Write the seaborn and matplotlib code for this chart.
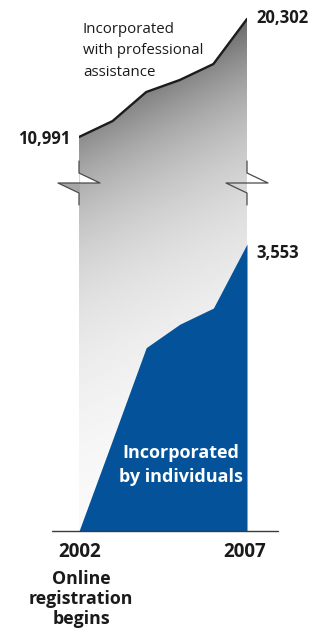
import numpy as np
import matplotlib
matplotlib.use("Agg")
import matplotlib.pyplot as plt
from matplotlib.lines import Line2D
from matplotlib.patches import Polygon
import seaborn as sns

# ---- data ----
years = [2002, 2003, 2004, 2005, 2006, 2007]
professional = [10991, 12250, 14540, 15490, 16750, 20302]
individuals = [0, 1130, 2270, 2560, 2760, 3553]
first_label, last_label = "2002", "2007"
prof_label = "Incorporated\nwith professional\nassistance"
indiv_label = "Incorporated\nby individuals"
note_label = "Online\nregistration\nbegins"

sns.set_style("white")
plt.rcParams["font.family"] = ["Open Sans", "DejaVu Sans"]

W, H = 312, 631
fig = plt.figure(figsize=(W / 100, H / 100), dpi=100)
fig.patch.set_facecolor("white")

def fx(x):
    return x / W

def fy(y):
    return 1 - y / H

X0, X1 = 79, 247
Y_BASE, Y_BREAK, Y_TOP = 531, 183, 5
# bottom axes (individuals scale)
ax_b = fig.add_axes([fx(X0), fy(Y_BASE), (X1 - X0) / W, (Y_BASE - Y_BREAK) / H])
ax_t = fig.add_axes([fx(X0), fy(Y_BREAK), (X1 - X0) / W, (Y_BREAK - Y_TOP) / H])

pb = 287 / 3553.0  # px per unit bottom
b_top = (Y_BASE - Y_BREAK) / pb
pt = 118 / (20302 - 10991)  # px per unit top
t_lo = 10991 - (Y_BREAK - 137) / pt
t_hi = 20302 + (19 - Y_TOP) / pt

for ax in (ax_b, ax_t):
    ax.set_xlim(2002, 2007)
    ax.axis("off")
ax_b.set_ylim(0, b_top)
ax_t.set_ylim(t_lo, t_hi)

def gradient(ax, ytop_px, ybot_px, clip):
    nx, ny = 200, 400
    xs = np.linspace(X0, X1, nx)
    ys = np.linspace(ytop_px, ybot_px, ny)
    XX, YY = np.meshgrid(xs, ys)
    u = (YY - 19) + 0.5 * (XX - 79)
    v = 255 - 143 * np.exp(-(u - 91) / 126)
    v = np.clip(v, 100, 251) / 255.0
    y0, y1 = ax.get_ylim()
    im = ax.imshow(v, cmap="gray", vmin=0, vmax=1, extent=(2002, 2007, y0, y1),
                   aspect="auto", origin="upper", interpolation="bilinear", zorder=1)
    path = clip.get_paths()[0]
    im.set_clip_path(path, transform=ax.transData)

# top part: professional
poly_t = ax_t.fill_between(years, t_lo, professional, color="none", lw=0)
gradient(ax_t, Y_TOP, Y_BREAK, poly_t)
sns.lineplot(x=years, y=professional, ax=ax_t, color="#1c1c1c", lw=1.7, zorder=3)
ax_t.set_xlim(2002, 2007)

# bottom part: full column gray + individuals
poly_b = ax_b.fill_between([2002, 2007], 0, b_top, color="none", lw=0)
gradient(ax_b, Y_BREAK, Y_BASE, poly_b)
ax_b.fill_between(years, 0, individuals, color="#03529a", lw=0, zorder=2)
ax_b.axhline(0, xmin=(52 - X0) / (X1 - X0), xmax=(278 - X0) / (X1 - X0),
             color="#3a3a3a", lw=1.0, clip_on=False, zorder=3)
ax_b.set_xlim(2002, 2007)

# break marks
def px(pts):
    return [(fx(a), fy(b)) for a, b in pts]

fig.add_artist(Polygon(px([(79.5, 173), (99, 183), (79.5, 183)]), closed=True,
                       fc="white", ec="none", zorder=5))
fig.add_artist(Polygon(px([(58, 183), (79.5, 183), (79.5, 193)]), closed=True,
                       fc="#a6a6a6", ec="none", zorder=5))
fig.add_artist(Polygon(px([(247, 173), (268, 183), (247, 183)]), closed=True,
                       fc="white", ec="none", zorder=5))
for xe in (79, 247):
    pts = [(xe, 161), (xe, 173), (xe + 21, 183), (xe - 21, 183), (xe, 193), (xe, 205)]
    xs, ys = zip(*px(pts))
    fig.add_artist(Line2D(xs, ys, color="#4a4a4a", lw=0.9, zorder=6))

# texts
def T(x, y, s, **kw):
    fig.text(fx(x), fy(y), s, **kw)

T(70, 139, f"{professional[0]:,}", ha="right", va="center", fontsize=12,
  fontweight="bold", color="#1a1a1a")
T(256, 18, f"{professional[-1]:,}", ha="left", va="center", fontsize=12,
  fontweight="bold", color="#1a1a1a")
T(256, 253, f"{individuals[-1]:,}", ha="left", va="center", fontsize=12,
  fontweight="bold", color="#1a1a1a")
T(83, 51, prof_label, ha="left", va="center", fontsize=10.8, color="#1a1a1a",
  linespacing=1.62)
T(181, 465, indiv_label, ha="center", va="center", fontsize=13,
  fontweight="bold", color="white", linespacing=1.5)
T(80, 552, first_label, ha="center", va="center", fontsize=13.5,
  fontweight="bold", color="#1a1a1a")
T(245, 552, last_label, ha="center", va="center", fontsize=13.5,
  fontweight="bold", color="#1a1a1a")
T(81, 599, note_label, ha="center", va="center", fontsize=12.8,
  fontweight="bold", color="#1a1a1a", linespacing=1.15)

fig.savefig("out.png", dpi=100, facecolor="white")
